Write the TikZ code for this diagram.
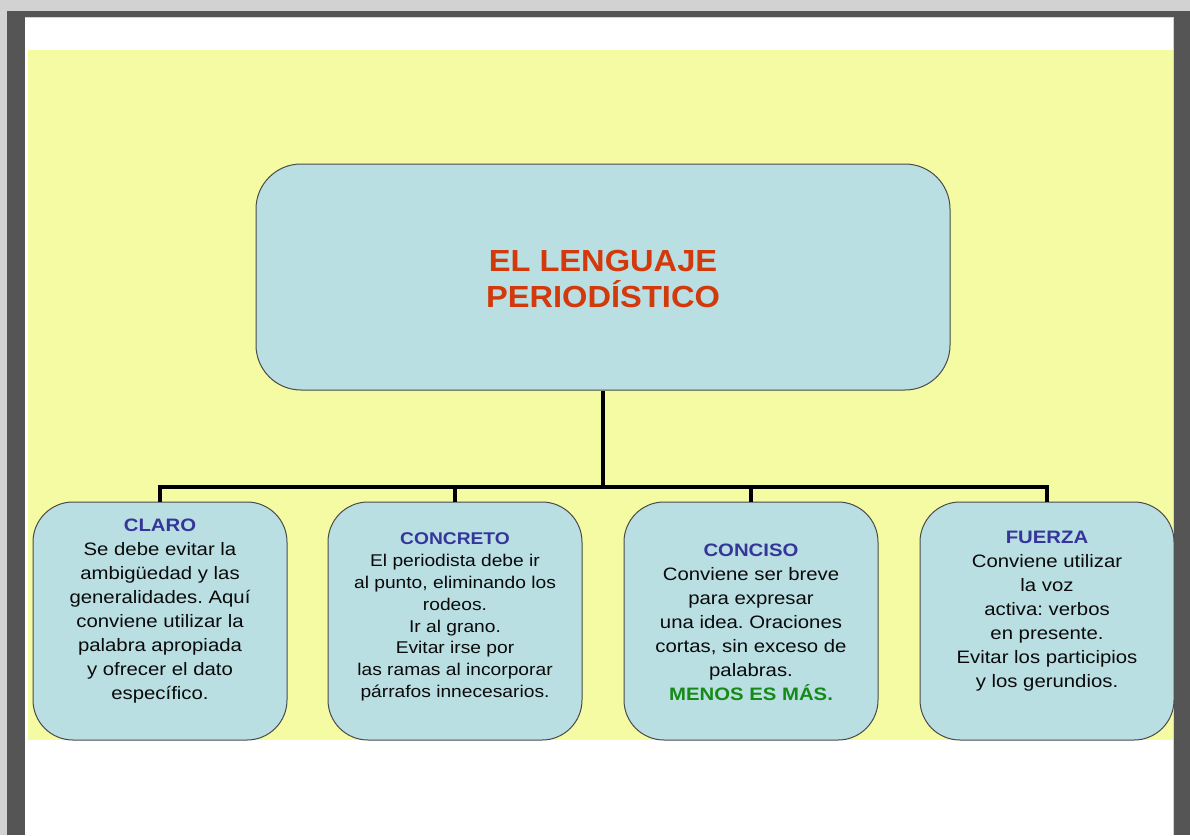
\documentclass[tikz,border=0pt]{standalone}
\usepackage{fontspec}
\setmainfont{Liberation Sans}
\newfontfamily\boxfont[FakeStretch=1.13]{Liberation Sans}
\newfontfamily\titlefont[FakeStretch=1.07]{Liberation Sans}
\definecolor{toolbar}{HTML}{D2D2D2}
\definecolor{frame}{HTML}{555555}
\definecolor{bgyellow}{HTML}{F5FBA2}
\definecolor{boxfill}{HTML}{B9DFE3}
\definecolor{boxline}{HTML}{4A4A4A}
\definecolor{titlered}{HTML}{D23A0C}
\definecolor{headblue}{HTML}{36369A}
\definecolor{mgreen}{HTML}{168A16}
\definecolor{bodytext}{HTML}{0A0A0A}
\tikzset{
  topbox/.style={draw=boxline, line width=1pt, fill=boxfill, rounded corners=45pt,
    minimum width=694pt, minimum height=226pt, inner sep=0pt},
  subbox/.style={draw=boxline, line width=1pt, fill=boxfill, rounded corners=40pt,
    minimum width=254pt, minimum height=238pt, inner sep=0pt},
  bodytxt/.style={align=center, text=bodytext, font=\boxfont\frenchspacing\fontsize{18}{24}\selectfont, inner sep=0pt},
  conn/.style={draw=black, line width=4pt, line join=miter},
}
\begin{document}
\begin{tikzpicture}[x=1pt, y=-1pt]
\useasboundingbox (0,0) rectangle (1190,835);
% viewer background
\fill[toolbar] (0,0) rectangle (1190,835);
\fill[frame] (7,11) rectangle (1190,835);
\fill[white] (25,17) rectangle (1173,835);
\draw[toolbar, line width=0.6pt] (25,17) -- (1173,17) -- (1173,835);
\fill[bgyellow] (28,50) rectangle (1173,740);
% nodes
\node[topbox] (top) at (603,277) {};
\node[align=center, text=titlered, font=\titlefont\fontsize{30.5}{36}\selectfont\bfseries] (ttl) at (603,279)
  {EL LENGUAJE\\PERIODÍSTICO};
\node[subbox] (b1) at (160,621) {};
\node[subbox] (b2) at (455,621) {};
\node[subbox] (b3) at (751,621) {};
\node[subbox] (b4) at (1047,621) {};
\node[bodytxt] (t1) at (160,611) {{\bfseries\color{headblue}CLARO}\\Se debe evitar la\\ambigüedad y las\\generalidades. Aquí\\conviene utilizar la\\palabra apropiada\\y ofrecer el dato\\específico.};
\node[bodytxt, font=\boxfont\frenchspacing\fontsize{17}{21.8}\selectfont] (t2) at (455,617) {{\bfseries\color{headblue}CONCRETO}\\El periodista debe ir\\al punto, eliminando los\\rodeos.\\Ir al grano.\\Evitar irse por\\las ramas al incorporar\\párrafos innecesarios.};
\node[bodytxt] (t3) at (751,622) {{\bfseries\color{headblue}CONCISO}\\Conviene ser breve\\para expresar\\una idea. Oraciones\\cortas, sin exceso de\\palabras.\\{\bfseries\color{mgreen}MENOS ES MÁS.}};
\node[bodytxt] (t4) at (1047,611) {{\bfseries\color{headblue}FUERZA}\\Conviene utilizar\\la voz\\activa: verbos\\en presente.\\Evitar los participios\\y los gerundios.};
% connectors
\coordinate (j) at (603,487);
\draw[conn] (top.south) -- (j);
\draw[conn] (b1.north) |- (j) -| (b4.north);
\draw[conn] (b2.north) -- (b2.north |- j);
\draw[conn] (b3.north) -- (b3.north |- j);
\end{tikzpicture}
\end{document}
